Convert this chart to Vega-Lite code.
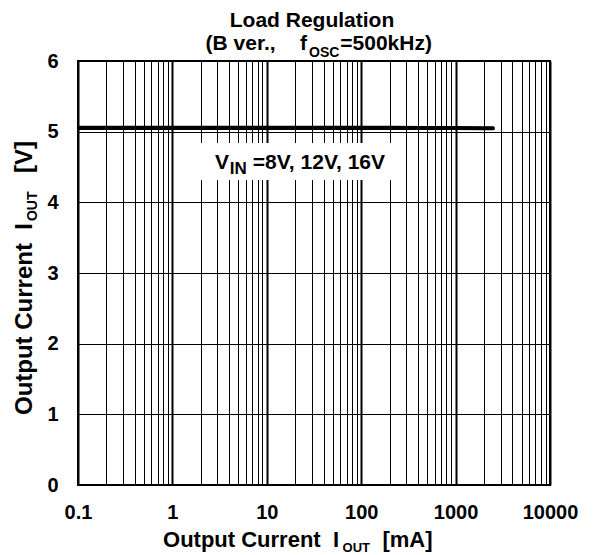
{
  "$schema": "https://vega.github.io/schema/vega-lite/v6.json",
  "width": 472,
  "height": 424,
  "autosize": {"type": "none"},
  "padding": {"left": 78, "top": 61, "right": 50, "bottom": 70},
  "background": "white",
  "config": {
    "view": {"stroke": "black", "strokeWidth": 2},
    "font": "Liberation Sans",
    "text": {"font": "Liberation Sans", "fontWeight": "bold", "color": "black", "baseline": "alphabetic"}
  },
  "data": {
    "values": [
      {"vin": "8V", "current": 0.1, "vout": 5.062},
      {"vin": "8V", "current": 0.2, "vout": 5.062},
      {"vin": "8V", "current": 0.5, "vout": 5.062},
      {"vin": "8V", "current": 1, "vout": 5.062},
      {"vin": "8V", "current": 2, "vout": 5.062},
      {"vin": "8V", "current": 5, "vout": 5.062},
      {"vin": "8V", "current": 10, "vout": 5.062},
      {"vin": "8V", "current": 20, "vout": 5.062},
      {"vin": "8V", "current": 50, "vout": 5.062},
      {"vin": "8V", "current": 100, "vout": 5.062},
      {"vin": "8V", "current": 200, "vout": 5.061},
      {"vin": "8V", "current": 500, "vout": 5.06},
      {"vin": "8V", "current": 1000, "vout": 5.058},
      {"vin": "8V", "current": 2000, "vout": 5.056},
      {"vin": "8V", "current": 2500, "vout": 5.055},
      {"vin": "12V", "current": 0.1, "vout": 5.052},
      {"vin": "12V", "current": 0.2, "vout": 5.052},
      {"vin": "12V", "current": 0.5, "vout": 5.052},
      {"vin": "12V", "current": 1, "vout": 5.052},
      {"vin": "12V", "current": 2, "vout": 5.052},
      {"vin": "12V", "current": 5, "vout": 5.052},
      {"vin": "12V", "current": 10, "vout": 5.052},
      {"vin": "12V", "current": 20, "vout": 5.052},
      {"vin": "12V", "current": 50, "vout": 5.052},
      {"vin": "12V", "current": 100, "vout": 5.052},
      {"vin": "12V", "current": 200, "vout": 5.052},
      {"vin": "12V", "current": 500, "vout": 5.051},
      {"vin": "12V", "current": 1000, "vout": 5.05},
      {"vin": "12V", "current": 2000, "vout": 5.049},
      {"vin": "12V", "current": 2500, "vout": 5.049},
      {"vin": "16V", "current": 0.1, "vout": 5.044},
      {"vin": "16V", "current": 0.2, "vout": 5.044},
      {"vin": "16V", "current": 0.5, "vout": 5.044},
      {"vin": "16V", "current": 1, "vout": 5.044},
      {"vin": "16V", "current": 2, "vout": 5.044},
      {"vin": "16V", "current": 5, "vout": 5.044},
      {"vin": "16V", "current": 10, "vout": 5.044},
      {"vin": "16V", "current": 20, "vout": 5.044},
      {"vin": "16V", "current": 50, "vout": 5.044},
      {"vin": "16V", "current": 100, "vout": 5.044},
      {"vin": "16V", "current": 200, "vout": 5.044},
      {"vin": "16V", "current": 500, "vout": 5.044},
      {"vin": "16V", "current": 1000, "vout": 5.044},
      {"vin": "16V", "current": 2000, "vout": 5.043},
      {"vin": "16V", "current": 2500, "vout": 5.043}
    ]
  },
  "layer": [
    {
      "mark": {"type": "line", "color": "black", "strokeWidth": 3, "strokeCap": "round", "clip": true},
      "encoding": {
        "x": {
          "field": "current",
          "type": "quantitative",
          "scale": {"type": "log", "domain": [0.1, 10000], "nice": false},
          "axis": {
            "title": null,
            "values": [0.1, 0.2, 0.3, 0.4, 0.5, 0.6, 0.7, 0.8, 0.9, 1, 2, 3, 4, 5, 6, 7, 8, 9, 10, 20, 30, 40, 50, 60, 70, 80, 90, 100, 200, 300, 400, 500, 600, 700, 800, 900, 1000, 2000, 3000, 4000, 5000, 6000, 7000, 8000, 9000, 10000],
            "format": "~g",
            "labelExpr": "abs(log(datum.value)/LN10 - round(log(datum.value)/LN10)) < 0.000001 ? datum.label : ''",
            "labelFlush": false,
            "labelOverlap": false,
            "labelFont": "Liberation Sans",
            "labelFontSize": 20,
            "labelFontWeight": "bold",
            "labelColor": "black",
            "labelPadding": 17,
            "ticks": false,
            "tickSize": 0,
            "domain": false,
            "grid": true,
            "gridColor": "black",
            "gridOpacity": 1,
            "gridWidth": {"condition": {"test": "abs(log(datum.value)/LN10 - round(log(datum.value)/LN10)) < 0.000001", "value": 2}, "value": 1}
          }
        },
        "y": {
          "field": "vout",
          "type": "quantitative",
          "scale": {"domain": [0, 6], "nice": false},
          "axis": {
            "title": null,
            "values": [0, 1, 2, 3, 4, 5, 6],
            "format": "d",
            "labelFont": "Liberation Sans",
            "labelFontSize": 20,
            "labelFontWeight": "bold",
            "labelColor": "black",
            "labelPadding": 20,
            "ticks": false,
            "tickSize": 0,
            "domain": false,
            "grid": true,
            "gridColor": "black",
            "gridOpacity": 1,
            "gridWidth": 1
          }
        },
        "detail": {"field": "vin", "type": "nominal"}
      }
    },
    {
      "data": {"values": [{}]},
      "mark": {"type": "rect", "fill": "white", "stroke": null},
      "encoding": {
        "x": {"datum": 1.96, "type": "quantitative"},
        "x2": {"datum": 217.2},
        "y": {"datum": 4.84, "type": "quantitative"},
        "y2": {"datum": 4.316}
      }
    },
    {
      "data": {"values": [{}]},
      "mark": {"type": "text", "text": "V", "fontSize": 21, "align": "left"},
      "encoding": {"x": {"datum": 2.827, "type": "quantitative"}, "y": {"datum": 4.467, "type": "quantitative"}}
    },
    {
      "data": {"values": [{}]},
      "mark": {"type": "text", "text": "IN", "fontSize": 17, "align": "left", "dy": 5},
      "encoding": {"x": {"datum": 4.05, "type": "quantitative"}, "y": {"datum": 4.467, "type": "quantitative"}}
    },
    {
      "data": {"values": [{}]},
      "mark": {"type": "text", "text": "=8V, 12V, 16V", "fontSize": 21, "align": "right"},
      "encoding": {"x": {"datum": 178.7, "type": "quantitative"}, "y": {"datum": 4.467, "type": "quantitative"}}
    },
    {
      "data": {"values": [{}]},
      "mark": {"type": "text", "text": "Load Regulation", "fontSize": 21, "align": "center"},
      "encoding": {"x": {"datum": 30.1, "type": "quantitative"}, "y": {"datum": 6.485, "type": "quantitative"}}
    },
    {
      "data": {"values": [{}]},
      "mark": {"type": "text", "text": "(B ver.,", "fontSize": 21, "align": "right"},
      "encoding": {"x": {"datum": 12.4, "type": "quantitative"}, "y": {"datum": 6.155, "type": "quantitative"}}
    },
    {
      "data": {"values": [{}]},
      "mark": {"type": "text", "text": "f", "fontSize": 21, "align": "left"},
      "encoding": {"x": {"datum": 22.47, "type": "quantitative"}, "y": {"datum": 6.155, "type": "quantitative"}}
    },
    {
      "data": {"values": [{}]},
      "mark": {"type": "text", "text": "OSC", "fontSize": 14, "align": "left", "dy": 7},
      "encoding": {"x": {"datum": 27.99, "type": "quantitative"}, "y": {"datum": 6.155, "type": "quantitative"}}
    },
    {
      "data": {"values": [{}]},
      "mark": {"type": "text", "text": "=500kHz)", "fontSize": 21, "align": "left"},
      "encoding": {"x": {"datum": 60.0, "type": "quantitative"}, "y": {"datum": 6.155, "type": "quantitative"}}
    },
    {
      "data": {"values": [{}]},
      "mark": {"type": "text", "text": "Output Current\u00a0\u00a0I", "fontSize": 22, "align": "right"},
      "encoding": {"x": {"datum": 58.2, "type": "quantitative"}, "y": {"datum": -0.873, "type": "quantitative"}}
    },
    {
      "data": {"values": [{}]},
      "mark": {"type": "text", "text": "OUT", "fontSize": 13, "align": "left", "dy": 5},
      "encoding": {"x": {"datum": 63.4, "type": "quantitative"}, "y": {"datum": -0.873, "type": "quantitative"}}
    },
    {
      "data": {"values": [{}]},
      "mark": {"type": "text", "text": "[mA]", "fontSize": 22, "align": "left"},
      "encoding": {"x": {"datum": 168, "type": "quantitative"}, "y": {"datum": -0.873, "type": "quantitative"}}
    },
    {
      "data": {"values": [{}]},
      "mark": {"type": "text", "text": "Output Current\u00a0\u00a0I", "fontSize": 24, "align": "left", "angle": 270},
      "encoding": {"x": {"datum": 0.0323, "type": "quantitative"}, "y": {"datum": 0.99, "type": "quantitative"}}
    },
    {
      "data": {"values": [{}]},
      "mark": {"type": "text", "text": "OUT", "fontSize": 14, "align": "left", "angle": 270, "dx": 194, "dy": 5},
      "encoding": {"x": {"datum": 0.0323, "type": "quantitative"}, "y": {"datum": 0.99, "type": "quantitative"}}
    },
    {
      "data": {"values": [{}]},
      "mark": {"type": "text", "text": "[V]", "fontSize": 24, "align": "left", "angle": 270, "dx": 242},
      "encoding": {"x": {"datum": 0.0323, "type": "quantitative"}, "y": {"datum": 0.99, "type": "quantitative"}}
    }
  ]
}
